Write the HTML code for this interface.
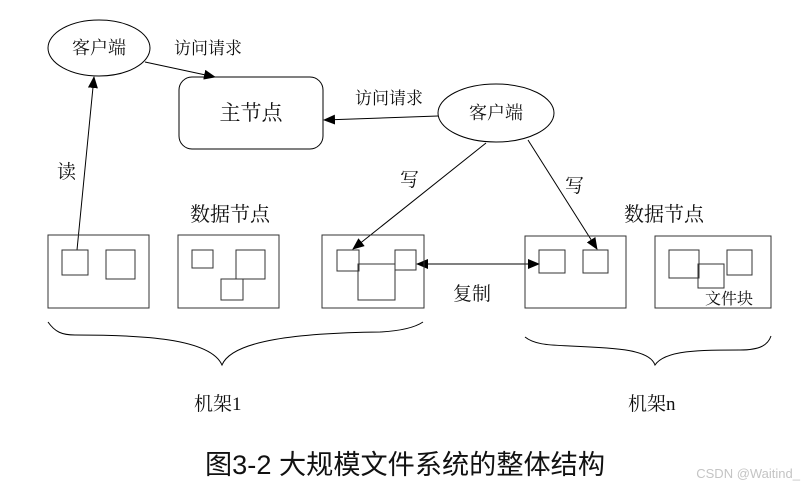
<!DOCTYPE html>
<html><head><meta charset="utf-8"><style>
html,body{margin:0;padding:0;background:#fff;}
svg{display:block;}
text{font-family:"Liberation Serif","Noto Serif CJK SC","Noto Sans CJK SC",serif;fill:#111;}
</style></head><body>
<svg width="812" height="491" viewBox="0 0 812 491" xmlns="http://www.w3.org/2000/svg">
<defs>
<marker id="a" markerWidth="12" markerHeight="10" refX="11" refY="5" orient="auto" markerUnits="userSpaceOnUse">
<path d="M0,0 L12,5 L0,10 z" fill="#000"/></marker>
<marker id="b" markerWidth="12" markerHeight="10" refX="1" refY="5" orient="auto" markerUnits="userSpaceOnUse">
<path d="M12,0 L0,5 L12,10 z" fill="#000"/></marker>
</defs>
<g fill="none" stroke="#000" stroke-width="1">
<ellipse cx="99" cy="48" rx="51" ry="28"/>
<rect x="179" y="77" width="144" height="72" rx="13"/>
<ellipse cx="496" cy="113" rx="58" ry="29"/>
<line x1="145" y1="62" x2="215" y2="77" marker-end="url(#a)"/>
<line x1="438" y1="116" x2="324" y2="120" marker-end="url(#a)"/>
<line x1="77" y1="250" x2="94" y2="77" marker-end="url(#a)"/>
<line x1="486" y1="143" x2="353" y2="249" marker-end="url(#a)"/>
<line x1="528" y1="140" x2="597" y2="249" marker-end="url(#a)"/>
<line x1="417" y1="264" x2="539" y2="264" marker-start="url(#b)" marker-end="url(#a)"/>
<g stroke="#333">
<rect x="48" y="235" width="101" height="73"/>
<rect x="178" y="235" width="101" height="73"/>
<rect x="322" y="235" width="102" height="73"/>
<rect x="525" y="236" width="101" height="72"/>
<rect x="655" y="236" width="116" height="72"/>
<rect x="62" y="250" width="26" height="25"/>
<rect x="106" y="250" width="29" height="29"/>
<rect x="192" y="250" width="21" height="18"/>
<rect x="236" y="250" width="29" height="29"/>
<rect x="221" y="279" width="22" height="21"/>
<rect x="337" y="250" width="22" height="21"/>
<rect x="358" y="264" width="37" height="36"/>
<rect x="395" y="250" width="21" height="20"/>
<rect x="539" y="250" width="26" height="23"/>
<rect x="583" y="250" width="25" height="23"/>
<rect x="669" y="250" width="30" height="28"/>
<rect x="698" y="264" width="26" height="24"/>
<rect x="727" y="250" width="25" height="25"/>
</g>
<path d="M48,322 C55,332 62,335 75,335 C140,335 210,338 222,365 C232,340 300,333 380,332 C400,331 414,328 423,322"/>
<path d="M525,337 C535,345 550,345 570,346 C620,348 650,350 655,365 C665,350 700,350 740,350 C760,350 768,345 771,336"/>
</g>
<g font-size="18">
<text x="99" y="54" text-anchor="middle">客户端</text>
<text x="496" y="119" text-anchor="middle">客户端</text>
<text x="251" y="120" text-anchor="middle" font-size="21">主节点</text>
<text x="174" y="54" font-size="17">访问请求</text>
<text x="355" y="104" font-size="17">访问请求</text>
<text x="57" y="178" font-size="19">读</text>
<text x="400" y="186" font-size="19">写</text>
<text x="565" y="192" font-size="19">写</text>
<text x="190" y="221" font-size="20">数据节点</text>
<text x="624" y="221" font-size="20">数据节点</text>
<text x="453" y="300" font-size="19">复制</text>
<text x="705" y="304" font-size="16">文件块</text>
<text x="194" y="410" font-size="19">机架1</text>
<text x="628" y="410" font-size="19">机架n</text>
</g>
<text x="205" y="474" font-size="27" textLength="400" lengthAdjust="spacingAndGlyphs" style="font-family:'Liberation Sans','Noto Sans CJK SC',sans-serif">图3-2 大规模文件系统的整体结构</text>
<text x="800" y="478" text-anchor="end" font-size="13" style="font-family:'Liberation Sans',sans-serif;fill:#c4c4c4">CSDN @Waitind_</text>
</svg>
</body></html>
